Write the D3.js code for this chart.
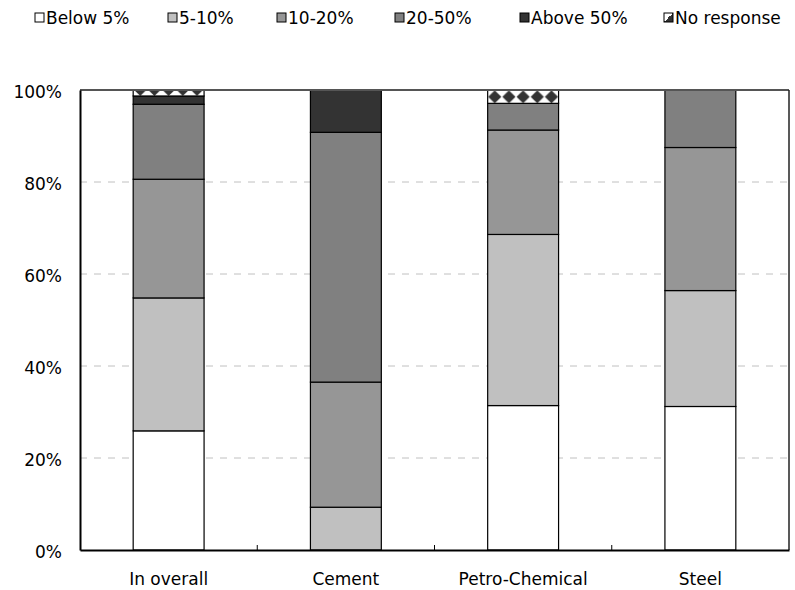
<!DOCTYPE html>
<html>
<head>
<meta charset="utf-8">
<script src="https://cdn.jsdelivr.net/npm/d3@7"></script>
<style>
  html, body { margin: 0; padding: 0; background: #fff; }
  svg { display: block; }
  text { font-family: "DejaVu Sans", sans-serif; fill: #000; }
</style>
</head>
<body>
<svg id="chart" width="795" height="590"></svg>
<script>
// Share of respondents by range, per industry (percent, stacks sum to 100)
const categories = ["In overall", "Cement", "Petro-Chemical", "Steel"];
const seriesNames = ["Below 5%", "5-10%", "10-20%", "20-50%", "Above 50%", "No response"];
const below5     = [25.9, 0.0, 31.4, 31.2];
const pct5to10   = [28.9, 9.3, 37.2, 25.2];
const pct10to20  = [25.8, 27.2, 22.7, 31.1];
const pct20to50  = [16.3, 54.3, 5.8, 12.5];
const above50    = [1.8, 9.2, 0.0, 0.0];
const noResponse = [1.3, 0.0, 2.9, 0.0];
const yTicks = [0, 20, 40, 60, 80, 100];

const seriesValues = [below5, pct5to10, pct10to20, pct20to50, above50, noResponse];
const fills = ["#ffffff", "#c0c0c0", "#969696", "#808080", "#333333", null];

const rows = categories.map((c, i) => {
  const r = { category: c };
  seriesNames.forEach((s, j) => { r[s] = seriesValues[j][i]; });
  return r;
});

const svg = d3.select("#chart");
const margin = { left: 80, right: 6, top: 90, bottom: 40 };
const W = 795, H = 590;
const x = d3.scaleBand().domain(categories)
  .range([margin.left, W - margin.right]).paddingInner(0.6).paddingOuter(0.3);
const y = d3.scaleLinear().domain([0, 100]).range([H - margin.bottom, margin.top]);

const defs = svg.append("defs");

// gridlines
svg.append("g")
  .selectAll("line")
  .data(yTicks.filter(t => t > 0 && t < 100))
  .join("line")
  .attr("x1", margin.left).attr("x2", W - margin.right)
  .attr("y1", d => y(d)).attr("y2", d => y(d))
  .attr("stroke", "#c0c0c0").attr("stroke-width", 1)
  .attr("stroke-dasharray", "7,7");

const stack = d3.stack().keys(seriesNames);
const layers = stack(rows);

const bw = x.bandwidth();
const layerG = svg.append("g");
layers.forEach((layer, li) => {
  layer.forEach((seg, ci) => {
    const v = seg[1] - seg[0];
    if (v <= 0) return;
    const x0 = x(categories[ci]);
    const yTop = y(seg[1]), yBot = y(seg[0]);
    let fill = fills[li];
    if (fill === null) {
      // diamond hatch anchored to this segment
      const id = "diam" + ci;
      const pw = bw / 5, ph = 13;
      const p = defs.append("pattern").attr("id", id)
        .attr("patternUnits", "userSpaceOnUse")
        .attr("x", x0).attr("y", yBot - ph)
        .attr("width", pw).attr("height", ph);
      p.append("rect").attr("width", pw).attr("height", ph).attr("fill", "#fff");
      const cx = pw / 2, cy = ph / 2, hw = 6.6, hh = 6.5;
      p.append("path")
        .attr("d", `M${cx - hw},${cy}L${cx},${cy - hh}L${cx + hw},${cy}L${cx},${cy + hh}Z`)
        .attr("fill", "#333");
      fill = `url(#${id})`;
    }
    layerG.append("rect")
      .attr("x", x0).attr("y", yTop)
      .attr("width", bw).attr("height", yBot - yTop)
      .attr("fill", fill)
      .attr("stroke", "#000").attr("stroke-width", 1.2);
  });
});

// plot frame: top and right borders
svg.append("line")
  .attr("x1", margin.left).attr("x2", W - margin.right)
  .attr("y1", y(100)).attr("y2", y(100))
  .attr("stroke", "#555").attr("stroke-width", 2);
svg.append("line")
  .attr("x1", W - margin.right).attr("x2", W - margin.right)
  .attr("y1", y(100)).attr("y2", y(0))
  .attr("stroke", "#222").attr("stroke-width", 1.5);

// y axis
const yAxis = svg.append("g")
  .attr("transform", `translate(${margin.left},0)`)
  .call(d3.axisLeft(y).tickValues(yTicks).tickFormat(d => d + "%").tickSize(0).tickPadding(18));
yAxis.select(".domain").attr("stroke", "#000").attr("stroke-width", 2);
yAxis.selectAll("text").attr("font-size", 17).attr("dy", "0.45em")
  .style("font-family", "DejaVu Sans, sans-serif");

// x axis: ticks between categories, pointing inward
const xAxis = svg.append("g")
  .attr("transform", `translate(0,${y(0)})`)
  .call(d3.axisBottom(x).tickSize(0).tickPadding(20));
xAxis.select(".domain").attr("stroke", "#000").attr("stroke-width", 2);
xAxis.selectAll("text").attr("font-size", 17).attr("dy", "0.9em")
  .style("font-family", "DejaVu Sans, sans-serif");
const step = x.step();
xAxis.selectAll(".sep")
  .data(categories.slice(1))
  .join("line")
  .attr("class", "sep")
  .attr("x1", d => x(d) - x.paddingInner() * step / 2)
  .attr("x2", d => x(d) - x.paddingInner() * step / 2)
  .attr("y1", 0).attr("y2", -5)
  .attr("stroke", "#000").attr("stroke-width", 1);

// legend
const legendX = [35, 168, 277, 395, 520, 664];
const lg = svg.append("g");
defs.append("linearGradient").attr("id", "halfHalf")
  .attr("x1", 0).attr("y1", 0).attr("x2", 1).attr("y2", 1)
  .call(gr => {
    gr.append("stop").attr("offset", "50%").attr("stop-color", "#fff");
    gr.append("stop").attr("offset", "50%").attr("stop-color", "#333");
  });
seriesNames.forEach((s, i) => {
  const g = lg.append("g").attr("transform", `translate(${legendX[i]},18)`);
  g.append("rect").attr("x", 0).attr("y", -5).attr("width", 9).attr("height", 9)
    .attr("fill", i === 5 ? "url(#halfHalf)" : fills[i])
    .attr("stroke", "#000").attr("stroke-width", 1);
  g.append("text").attr("x", 11).attr("y", 0).attr("dy", "0.35em")
    .attr("font-size", 17).text(s);
});
</script>
</body>
</html>
